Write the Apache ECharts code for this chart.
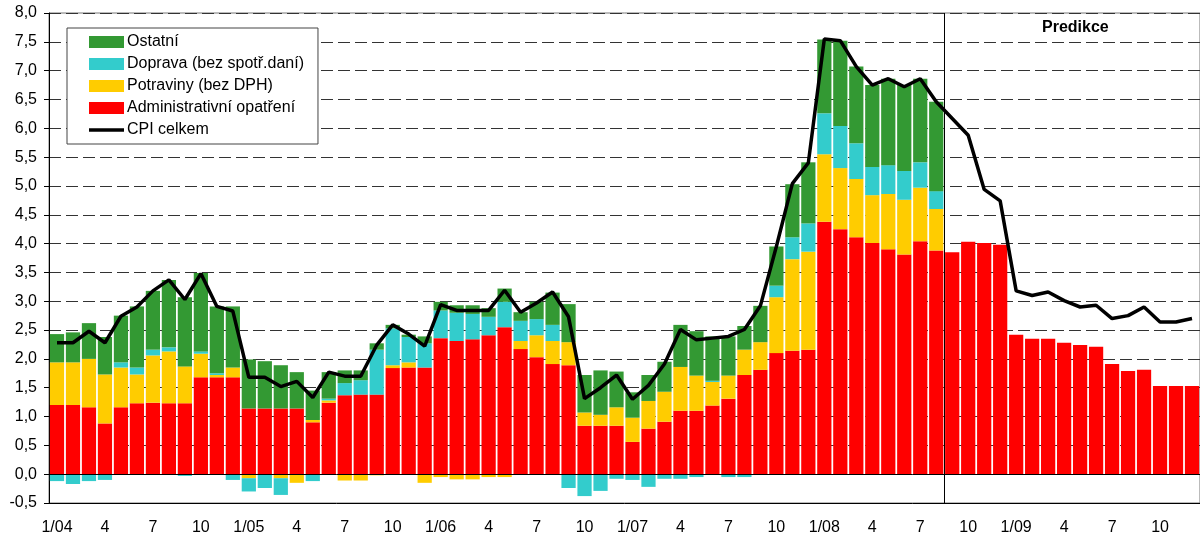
<!DOCTYPE html>
<html>
<head>
<meta charset="utf-8">
<script src="https://cdn.jsdelivr.net/npm/echarts@6/dist/echarts.min.js"></script>
<style>
  html, body { margin: 0; padding: 0; background: #fff; }
  #main { width: 1200px; height: 537px; }
</style>
</head>
<body>
<div id="main"></div>
<script>
// months 1/04 .. 12/09, label is "1/yy" for january, month number otherwise
var months = [];
for (var y = 4; y <= 9; y++) {
  for (var m = 1; m <= 12; m++) months.push(m === 1 ? '1/0' + y : String(m));
}

// contributions to CPI (p.p.)
var admin = [1.20, 1.20, 1.16, 0.88, 1.16, 1.23, 1.24, 1.23, 1.23, 1.68, 1.68, 1.68,
  1.14, 1.14, 1.14, 1.14, 0.90, 1.24, 1.37, 1.38, 1.38, 1.84, 1.85, 1.85,
  2.36, 2.31, 2.34, 2.41, 2.55, 2.17, 2.03, 1.91, 1.89, 0.84, 0.84, 0.84,
  0.56, 0.79, 0.91, 1.10, 1.10, 1.19, 1.31, 1.72, 1.81, 2.10, 2.14, 2.16,
  4.38, 4.25, 4.11, 4.01, 3.90, 3.81, 4.04, 3.88, 3.85, 4.03, 4.01, 3.98,
  2.42, 2.35, 2.35, 2.28, 2.24, 2.21, 1.91, 1.79, 1.81, 1.53, 1.53, 1.53];

var food = [0.74, 0.74, 0.84, 0.85, 0.69, 0.50, 0.82, 0.90, 0.64, 0.41, 0.04, 0.17,
  -0.07, 0, -0.07, -0.15, 0.04, 0.04, -0.11, -0.11, -0.02, 0.05, 0.09, -0.15,
  -0.05, -0.09, -0.09, -0.05, -0.05, 0.14, 0.38, 0.40, 0.40, 0.23, 0.19, 0.32,
  0.42, 0.48, 0.52, 0.76, 0.61, 0.41, 0.40, 0.44, 0.48, 0.97, 1.59, 1.70,
  1.17, 1.06, 1.01, 0.83, 0.96, 0.95, 0.93, 0.72];

var transport = [-0.12, -0.17, -0.12, -0.10, 0.09, 0.12, 0.10, 0.07, -0.03, 0.04, 0.03, -0.10,
  -0.23, -0.24, -0.29, 0, -0.12, 0.03, 0.21, 0.25, 0.78, 0.64, 0.44, 0.42,
  0.48, 0.49, 0.44, 0.32, 0.44, 0.35, 0.28, 0.28, -0.24, -0.38, -0.29, -0.08,
  -0.10, -0.22, -0.08, -0.08, -0.05, 0.02, -0.05, -0.05, 0, 0.20, 0.38, 0.49,
  0.71, 0.73, 0.62, 0.49, 0.50, 0.50, 0.44, 0.31];

var other = [0.49, 0.52, 0.62, 0.65, 0.81, 1.06, 1.02, 1.17, 1.20, 1.36, 1.16, 1.06,
  0.85, 0.82, 0.75, 0.63, 0.51, 0.46, 0.22, 0.17, 0.11, 0.06, 0.04, 0.12,
  0.15, 0.13, 0.15, 0.15, 0.23, 0.15, 0.30, 0.56, 0.66, 0.65, 0.77, 0.62,
  0.44, 0.45, 0.52, 0.73, 0.77, 0.77, 0.68, 0.41, 0.63, 0.68, 0.92, 1.06,
  1.28, 1.48, 1.33, 1.42, 1.50, 1.49, 1.45, 1.55];

var cpi = [2.28, 2.28, 2.48, 2.28, 2.74, 2.90, 3.18, 3.37, 3.03, 3.48, 2.91, 2.83,
  1.68, 1.68, 1.52, 1.61, 1.33, 1.77, 1.70, 1.70, 2.24, 2.59, 2.43, 2.22,
  2.94, 2.84, 2.84, 2.84, 3.19, 2.81, 2.97, 3.16, 2.73, 1.31, 1.50, 1.72,
  1.30, 1.54, 1.91, 2.51, 2.33, 2.36, 2.39, 2.51, 2.92, 3.95, 5.04, 5.40,
  7.55, 7.52, 7.07, 6.75, 6.86, 6.72, 6.86, 6.46, 6.17, 5.88, 4.94, 4.74,
  3.18, 3.10, 3.16, 3.01, 2.90, 2.93, 2.70, 2.75, 2.90, 2.64, 2.64, 2.70];

// prediction starts with this month index (9/08)
var predStart = 56;

var FONT = 'Liberation Sans, Arial, sans-serif';

var chart = echarts.init(document.getElementById('main'), null, {renderer: 'canvas'});

var option = {
  animation: false,
  backgroundColor: '#fff',
  textStyle: {fontFamily: FONT},
  title: {
    text: 'Predikce',
    left: 1042,
    top: 20,
    padding: 0,
    textStyle: {fontFamily: FONT, fontSize: 16, fontWeight: 'bold', color: '#000'}
  },
  grid: {
    left: 49, right: 0, top: 13, bottom: 34,
    show: true, borderColor: '#777', borderWidth: 1
  },
  legend: {
    orient: 'vertical',
    left: 67,
    top: 28,
    padding: [6, 14, 6, 22],
    itemGap: 6,
    itemWidth: 35,
    itemHeight: 12,
    backgroundColor: '#fff',
    borderColor: '#444',
    borderWidth: 1,
    borderRadius: 0,
    textStyle: {fontFamily: FONT, fontSize: 16, color: '#000', lineHeight: 16, padding: [0, 0, 0, -2]},
    data: [
      {name: 'Ostatní', icon: 'rect'},
      {name: 'Doprava (bez spotř.daní)', icon: 'rect'},
      {name: 'Potraviny (bez DPH)', icon: 'rect'},
      {name: 'Administrativní opatření', icon: 'rect'},
      // thick black stroke as the line sample
      {name: 'CPI celkem', icon: 'path://M0,0h35v3.6h-35z'}
    ]
  },
  xAxis: [
    {
      type: 'category',
      data: months,
      axisLine: {onZero: false, lineStyle: {color: '#000', width: 1}},
      axisTick: {show: false},
      axisLabel: {interval: 2, color: '#000', fontSize: 16, fontFamily: FONT, margin: 17},
      splitLine: {show: false}
    },
    {
      type: 'value',
      min: 0,
      max: 72,
      show: false
    }
  ],
  yAxis: {
    type: 'value',
    min: -0.5,
    max: 8,
    interval: 0.5,
    axisLine: {show: true, lineStyle: {color: '#000', width: 1}},
    axisTick: {show: true, inside: false, length: 5, lineStyle: {color: '#000'}},
    axisLabel: {
      color: '#000', fontSize: 16, fontFamily: FONT, margin: 12,
      formatter: function (v) { return v.toFixed(1).replace('.', ','); }
    },
    splitLine: {show: true, lineStyle: {color: '#333', type: [12, 5], width: 1}}
  },
  series: [
    {
      name: 'Administrativní opatření',
      type: 'bar',
      stack: 'cpi',
      data: admin,
      barCategoryGap: '11%',
      itemStyle: {color: '#FF0000'},
      markLine: {
        silent: true,
        symbol: 'none',
        label: {show: false},
        lineStyle: {color: '#000', type: 'solid', width: 1},
        data: [{yAxis: 0}]
      }
    },
    {
      name: 'Potraviny (bez DPH)',
      type: 'bar',
      stack: 'cpi',
      data: food,
      itemStyle: {color: '#FFCC00'}
    },
    {
      name: 'Doprava (bez spotř.daní)',
      type: 'bar',
      stack: 'cpi',
      data: transport,
      itemStyle: {color: '#33CCCC'}
    },
    {
      name: 'Ostatní',
      type: 'bar',
      stack: 'cpi',
      data: other,
      itemStyle: {color: '#339933'}
    },
    {
      name: 'CPI celkem',
      type: 'line',
      data: cpi,
      symbol: 'none',
      lineStyle: {color: '#000', width: 3.5},
      itemStyle: {color: '#000'},
      z: 5
    },
    {
      // vertical divider of the prediction part
      name: 'pred',
      type: 'line',
      xAxisIndex: 1,
      data: [[predStart, 0]],
      symbol: 'none',
      lineStyle: {opacity: 0},
      silent: true,
      markLine: {
        silent: true,
        symbol: 'none',
        label: {show: false},
        lineStyle: {color: '#000', type: 'solid', width: 1},
        data: [{xAxis: predStart}]
      }
    }
  ]
};

chart.setOption(option);
</script>
</body>
</html>
